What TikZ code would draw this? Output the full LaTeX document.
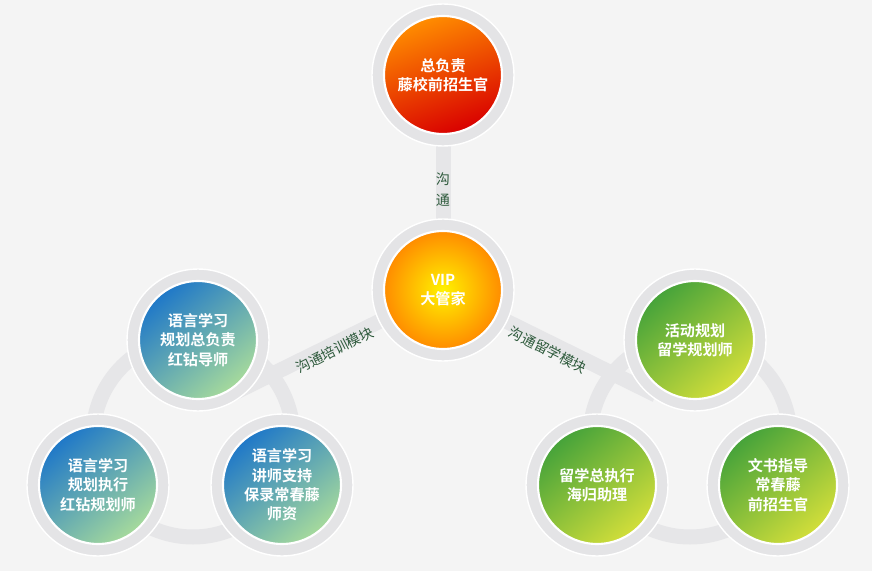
\documentclass[tikz,border=0pt]{standalone}
\usepackage{fontspec}
\newfontfamily\cjk{Noto Sans CJK SC}
\newfontfamily\cjkb{Noto Sans CJK SC Bold}
\usetikzlibrary{positioning}
\definecolor{bgc}{HTML}{F4F4F4}
\definecolor{ringc}{HTML}{E4E4E6}
\definecolor{bandc}{HTML}{E6E6E8}
\definecolor{labc}{HTML}{2E5A3C}
\definecolor{blueA}{HTML}{1F78C8}
\definecolor{blueB}{HTML}{A6DA9C}
\definecolor{greenA}{HTML}{46A33A}
\definecolor{greenB}{HTML}{D2DE3A}
\tikzset{
  ball/.style={circle,minimum size=2.36cm,inner sep=0pt,align=center,text=white,font=\cjkb\fontsize{8.6}{11}\selectfont,
    draw=white,line width=1.2pt},
  blueball/.style={ball,left color=blueA,right color=blueB,shading angle=40},
  greenball/.style={ball,left color=greenA,right color=greenB,shading angle=40},
  ring/.style={circle,minimum size=2.84cm,fill=ringc,draw=white,line width=0.8pt},
  band/.style={bandc,line width=0.3cm},
  lab/.style={text=labc,font=\cjk\fontsize{8}{10}\selectfont}
}
\begin{document}
\begin{tikzpicture}[x=0.02cm,y=-0.02cm]
\fill[bgc] (0,0) rectangle (872,571);
% bands
\draw[band] (443,75) -- (443,290);
\draw[band] (443,290) -- (230,395);
\draw[band] (443,290) -- (656,395);
\draw[band] (193,437) circle (100);
\draw[band] (690,437) circle (100);
% rings
\foreach \p in {(443,75),(443,290),(198,340),(98,485),(282,485),(695,340),(597,485),(778,485)}
  \node[ring] at \p {};
% balls
\node[ball,top color=orange!90!yellow,bottom color=red!85!black,shading angle=20] (chief) at (443,75) {总负责\\藤校前招生官};
\node[ball,inner color=yellow!90!orange,outer color=orange!90!yellow] (vip) at (443,290) {VIP\\大管家};
\node[blueball] (lang) at (198,340) {语言学习\\规划总负责\\红钻导师};
\node[blueball] (exec) at (98,485) {语言学习\\规划执行\\红钻规划师};
\node[blueball] (teach) at (282,485) {语言学习\\讲师支持\\保录常春藤\\师资};
\node[greenball] (act) at (695,340) {活动规划\\留学规划师};
\node[greenball] (abroad) at (597,485) {留学总执行\\海归助理};
\node[greenball] (doc) at (778,485) {文书指导\\常春藤\\前招生官};
% labels
\node[lab,align=center] (talk) at (443,190) {沟\\[2pt]通};
\node[lab,rotate=27] (trainlab) at (335,350) {沟通培训模块};
\node[lab,rotate=-27] (studylab) at (548,350) {沟通留学模块};
\end{tikzpicture}
\end{document}
